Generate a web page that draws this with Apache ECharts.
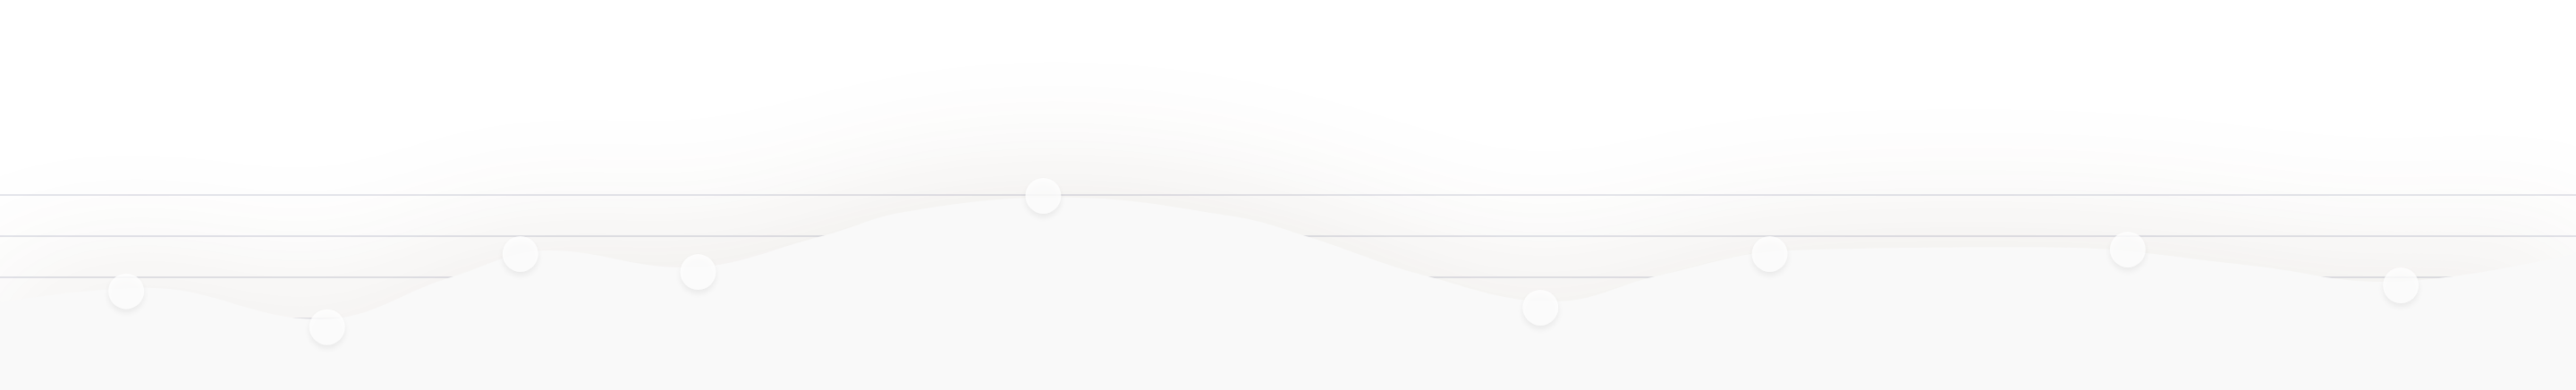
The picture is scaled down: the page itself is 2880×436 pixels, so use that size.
<!DOCTYPE html>
<html>
<head>
<meta charset="utf-8">
<script src="https://cdn.jsdelivr.net/npm/echarts@6/dist/echarts.min.js"></script>
<style>
html,body{margin:0;padding:0;background:#ffffff;}
#chart{width:2880px;height:436px;}
</style>
</head>
<body>
<div id="chart"></div>
<script>
// Area curve (x position on a 0-100 track, value on a 0-100 scale)
const curveX = [0, 5.7, 12.4, 17.5, 21.3, 26.5, 31.9, 35.1, 41.1, 47.9, 50.7, 55.3, 60.3, 64.4, 69.5, 79.4, 87.4, 92.5, 100];
const curveY = [47.6, 54.7, 39.3, 59.8, 72.9, 64.6, 79.9, 91.7, 98.8, 89.5, 79.9, 60.7, 48.0, 60.7, 72.9, 74.4, 65.5, 57.6, 71.6];
// Marker dots
const dotX = [4.9, 12.7, 20.2, 27.1, 40.5, 59.8, 68.7, 82.6, 93.2];
const dotY = [53.0, 35.5, 71.2, 62.4, 99.6, 45.0, 71.2, 73.4, 55.9];
// Value axis ticks
const yTicks = [0, 20, 40, 60, 80, 100];

const chart = echarts.init(document.getElementById('chart'), null, {renderer: 'canvas'});
chart.setOption({
  animation: false,
  backgroundColor: '#ffffff',
  grid: {left: 0, right: 0, top: 218, bottom: -11, outerBoundsMode: 'none', containLabel: false},
  xAxis: {
    type: 'value', min: 0, max: 100,
    show: false
  },
  yAxis: {
    type: 'value',
    min: yTicks[0], max: yTicks[yTicks.length - 1], interval: yTicks[1] - yTicks[0],
    axisLine: {show: false}, axisTick: {show: false}, axisLabel: {show: false},
    splitLine: {show: true, lineStyle: {color: '#e4e5eb', width: 2}}
  },
  series: [
    {
      type: 'line',
      data: curveX.map((x, i) => [x, curveY[i]]),
      smooth: 0.4,
      clip: false,
      showSymbol: false,
      symbol: 'none',
      lineStyle: {width: 0, color: '#f9f9f9'},
      areaStyle: {
        color: '#f9f9f9',
        opacity: 1,
        shadowColor: 'rgba(90,70,50,0.13)',
        shadowBlur: 170,
        shadowOffsetY: 0
      },
      z: 2
    },
    {
      type: 'scatter',
      data: dotX.map((x, i) => [x, dotY[i]]),
      symbol: 'circle',
      symbolSize: 40,
      itemStyle: {
        color: '#ffffff',
        shadowColor: 'rgba(0,0,0,0.08)',
        shadowBlur: 6,
        shadowOffsetY: 4
      },
      z: 3
    }
  ]
});
</script>
</body>
</html>
